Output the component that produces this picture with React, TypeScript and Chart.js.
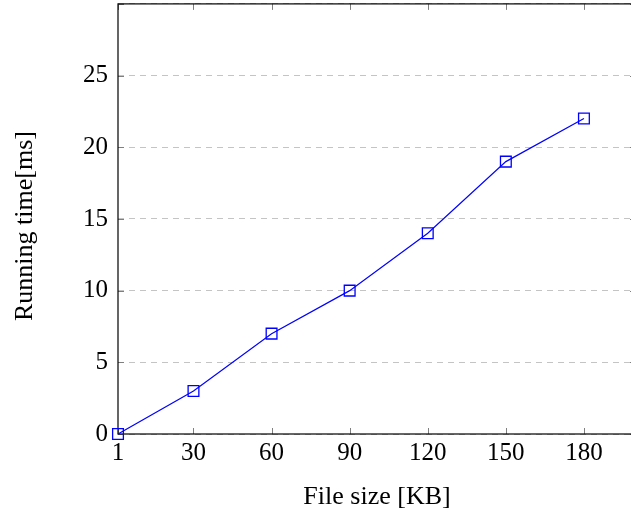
import React, { useEffect, useRef } from "react";
import { Chart, registerables } from "chart.js";

Chart.register(...registerables);

const fileSizes = [1, 30, 60, 90, 120, 150, 180];
const runningTimes = [0, 3, 7, 10, 14, 19, 22];
const xTickValues = [1, 30, 60, 90, 120, 150, 180];
const xTitle = "File size [KB]";
const yTitle = "Running time[ms]";

const FONT = "'Liberation Serif', 'Times New Roman', serif";
const SHIFT = 5;

export default function App() {
  const ref = useRef<HTMLCanvasElement | null>(null);

  useEffect(() => {
    const canvas = ref.current;
    if (!canvas) return;

    const framePlugin = {
      id: "frame",
      beforeDatasetsDraw(chart: any) {
        const { ctx, chartArea } = chart;
        const { left, right, top, bottom } = chartArea;
        const xs = chart.scales.x;
        const ys = chart.scales.y;
        ctx.save();
        ctx.strokeStyle = "#7f7f7f";
        ctx.lineWidth = 1;
        ctx.beginPath();
        for (const v of xTickValues) {
          const px = Math.round(xs.getPixelForValue(v)) + 0.5;
          ctx.moveTo(px, bottom);
          ctx.lineTo(px, bottom - 6);
          ctx.moveTo(px, top);
          ctx.lineTo(px, top + 6);
        }
        for (const t of ys.ticks) {
          const py = Math.round(ys.getPixelForValue(t.value)) + 0.5;
          ctx.moveTo(left, py);
          ctx.lineTo(left + 6, py);
          ctx.moveTo(right, py);
          ctx.lineTo(right - 6, py);
        }
        ctx.stroke();
        ctx.strokeStyle = "#000";
        ctx.lineWidth = 1.2;
        ctx.strokeRect(left, top, right - left, bottom - top);
        ctx.restore();
      },
      afterDraw(chart: any) {
        const { ctx, chartArea } = chart;
        ctx.save();
        ctx.fillStyle = "#000";
        ctx.font = `26px ${FONT}`;
        ctx.textAlign = "center";
        ctx.textBaseline = "alphabetic";
        ctx.fillText(xTitle, (chartArea.left + chartArea.right) / 2, 504 + SHIFT);
        ctx.translate(32, 226 + SHIFT);
        ctx.rotate(-Math.PI / 2);
        ctx.fillText(yTitle, 0, 0);
        ctx.restore();
      },
    };

    const chart = new Chart(canvas, {
      type: "line",
      data: {
        datasets: [
          {
            data: fileSizes.map((x, i) => ({ x, y: runningTimes[i] })),
            borderColor: "#0000ff",
            borderWidth: 1.2,
            backgroundColor: "rgba(0,0,0,0)",
            pointStyle: "rect",
            pointRadius: 7.6,
            pointHoverRadius: 7.6,
            pointBorderWidth: 1.3,
            pointBorderColor: "#0000ff",
            pointBackgroundColor: "rgba(0,0,0,0)",
            tension: 0,
            clip: false as any,
          },
        ],
      },
      options: {
        animation: false,
        responsive: false,
        devicePixelRatio: 1,
        events: [],
        layout: { padding: { top: 0, right: 9, left: 0, bottom: 0 } },
        plugins: {
          legend: { display: false },
          tooltip: { enabled: false },
          title: { display: false },
        },
        scales: {
          x: {
            type: "linear",
            min: 1,
            max: 200,
            afterBuildTicks(scale: any) {
              scale.ticks = xTickValues.map((v) => ({ value: v }));
            },
            afterFit(scale: any) {
              scale.height = 84;
              scale.paddingLeft = 0;
              scale.paddingRight = 0;
            },
            grid: { display: false, drawTicks: false },
            border: { display: false },
            ticks: {
              padding: 4,
              maxRotation: 0,
              autoSkip: false,
              color: "#000",
              font: { family: FONT, size: 25 },
              callback: (v: any) => String(v),
            },
          },
          y: {
            type: "linear",
            min: 0,
            max: 30,
            afterFit(scale: any) {
              scale.width = 118;
              scale.paddingTop = 0;
              scale.paddingBottom = 0;
            },
            grid: {
              display: true,
              drawTicks: false,
              color: "#c4c4c4",
              lineWidth: 1,
            },
            border: { display: false, dash: [6, 5] },
            ticks: {
              stepSize: 5,
              padding: 10,
              color: "#000",
              font: { family: FONT, size: 25 },
              callback: (v: any) => (v === 30 ? "" : String(v)),
            },
          },
        },
      },
      plugins: [framePlugin],
    } as any);

    return () => chart.destroy();
  }, []);

  return (
    <div
      style={{
        position: "fixed",
        left: 0,
        top: 0,
        width: 631,
        height: 518,
        overflow: "hidden",
        background: "#fff",
      }}
    >
      <canvas
        ref={ref}
        width={645}
        height={518 + SHIFT}
        style={{ display: "block", marginTop: -SHIFT }}
      />
    </div>
  );
}
